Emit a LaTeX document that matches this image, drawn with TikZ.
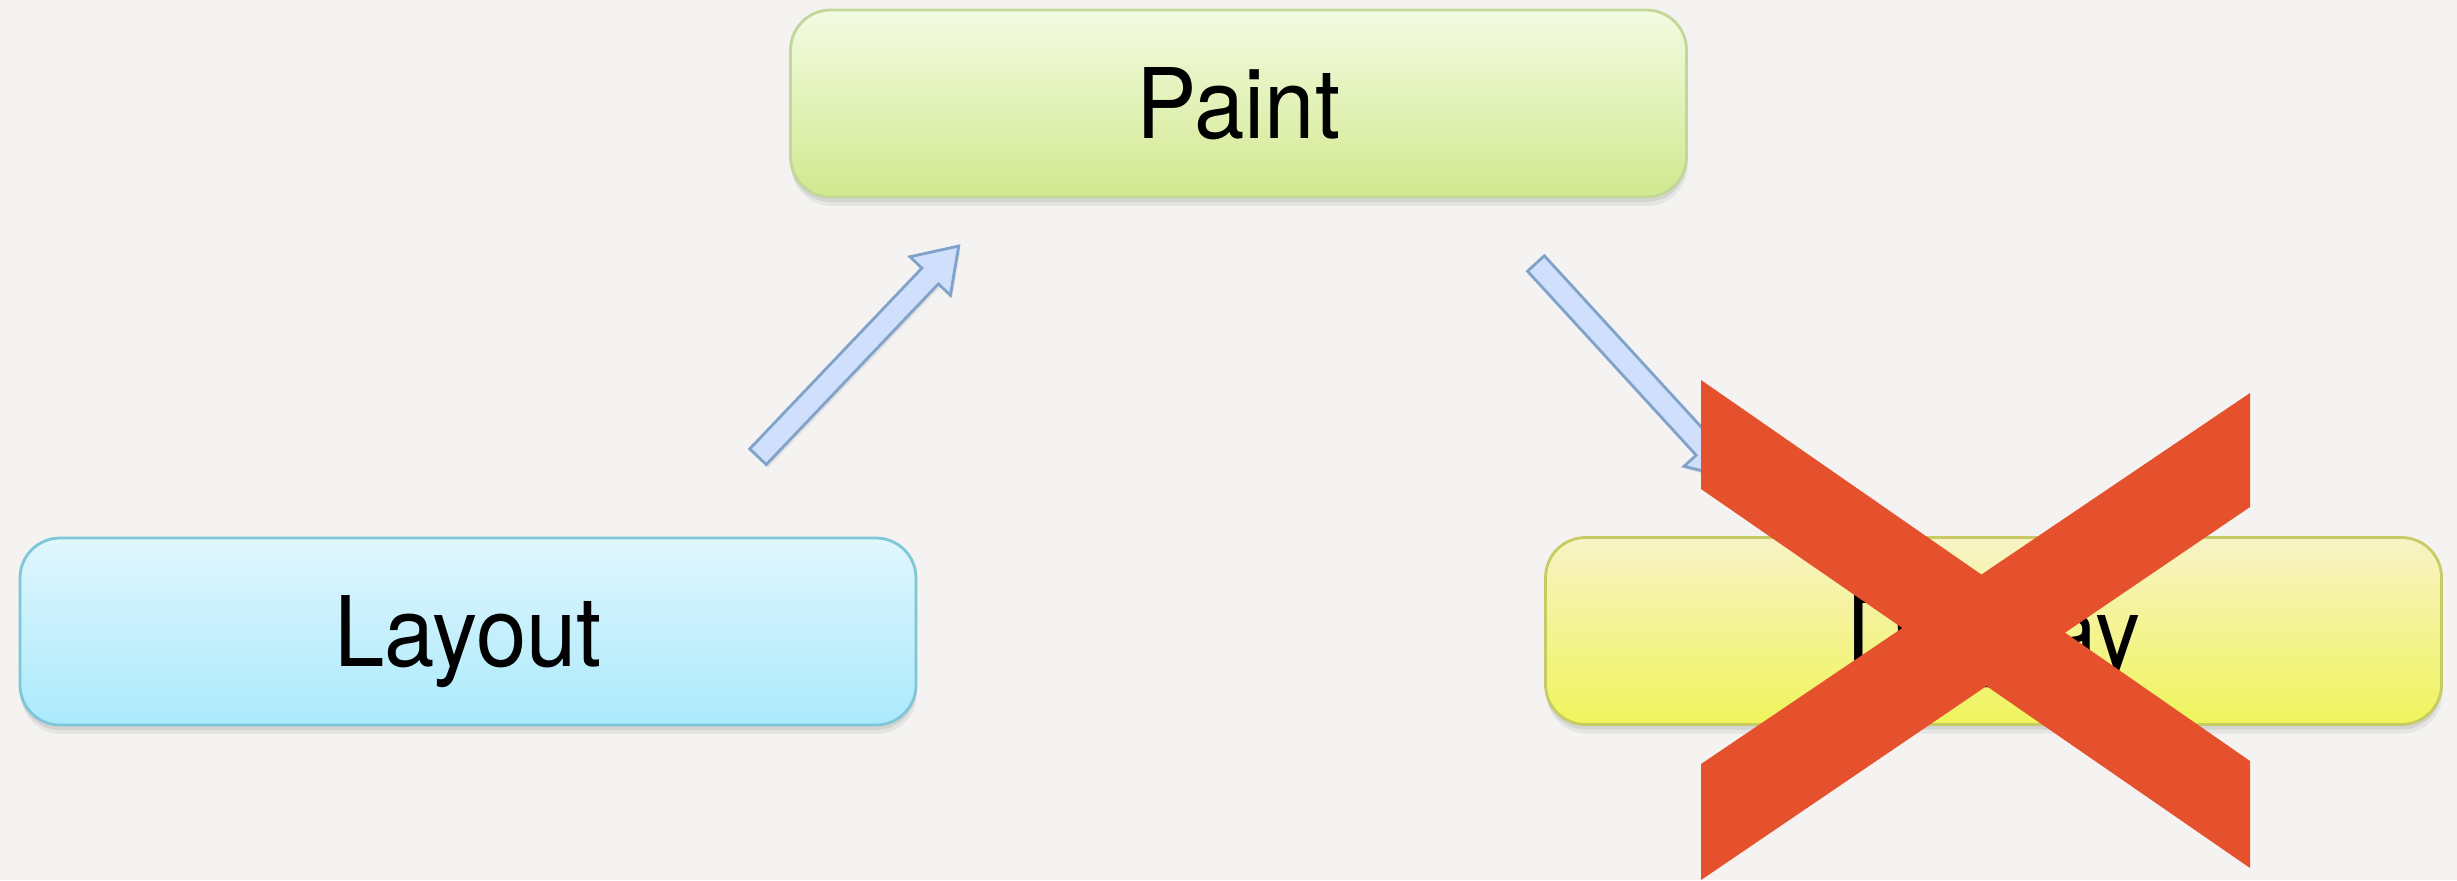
\documentclass[tikz,border=0pt]{standalone}
\usepackage{fontspec}
\usepackage{tikz}
\usetikzlibrary{shapes.arrows,shadows}
\newfontfamily\boxfont[FakeStretch=0.93]{TeX Gyre Heros}
\definecolor{bgGray}{HTML}{F4F3F1}
\definecolor{paintTop}{HTML}{F3FBE2}
\definecolor{paintBot}{HTML}{D2E88E}
\definecolor{paintLine}{HTML}{C2D79A}
\definecolor{layTop}{HTML}{E0F6FD}
\definecolor{layBot}{HTML}{ABEAFC}
\definecolor{layLine}{HTML}{7FC6D6}
\definecolor{dispTop}{HTML}{F8F3C6}
\definecolor{dispBot}{HTML}{EFF45C}
\definecolor{dispLine}{HTML}{C8CB64}
\definecolor{arrFill}{HTML}{D0E0FC}
\definecolor{arrLine}{HTML}{80A2CB}
\definecolor{crossRed}{HTML}{E5512C}

\begin{document}
\begin{tikzpicture}[
  stage/.style={rounded corners=0.4cm, minimum width=8.96cm, minimum height=1.87cm,
    inner sep=0pt, text height=0.70cm, text depth=0pt, line width=0.8pt,
    font=\boxfont\fontsize{27.7}{30}\selectfont,
    drop shadow={shadow xshift=0.01cm, shadow yshift=-0.09cm, opacity=0.12},
    drop shadow={shadow xshift=0cm, shadow yshift=-0.05cm, opacity=0.16}},
  paintb/.style={stage, draw=paintLine, top color=paintTop, bottom color=paintBot},
  layb/.style={stage, draw=layLine, top color=layTop, bottom color=layBot},
  dispb/.style={stage, draw=dispLine, top color=dispTop, bottom color=dispBot},
  flow/.style={single arrow, draw=arrLine, fill=arrFill, line width=0.8pt,
    inner sep=0pt, inner ysep=0.1cm, minimum width=0pt,
    single arrow head extend=0.165cm, single arrow head indent=0pt,
    single arrow tip angle=68,
    drop shadow={shadow xshift=0.02cm, shadow yshift=-0.03cm, opacity=0.15}}]
\useasboundingbox (0,0) rectangle (24.57,-8.80);
\fill[bgGray] (0,0) rectangle (24.57,-8.80);
% stages
\node[paintb] (paint) at (12.385,-1.035) {Paint};
\node[layb] (layout) at (4.68,-6.315) {Layout};
\node[dispb] (display) at (19.935,-6.31) {Display};
% arrows
\coordinate (t1) at (7.52,-4.63);
\coordinate (h1) at (9.53,-2.52);
\coordinate (t2) at (15.30,-2.57);
\coordinate (h2) at (17.27,-4.72);
\path (t1) -- node[flow, sloped, minimum height=2.91cm] (f1) {} (h1);
\path (t2) -- node[flow, sloped, minimum height=2.91cm] (f2) {} (h2);
% cross
\fill[crossRed] (17.01,-3.80) -- (17.01,-4.89) -- (22.50,-8.68) -- (22.50,-7.61) -- cycle;
\fill[crossRed] (22.50,-3.93) -- (22.50,-5.07) -- (17.01,-8.80) -- (17.01,-7.64) -- cycle;
\end{tikzpicture}
\end{document}
